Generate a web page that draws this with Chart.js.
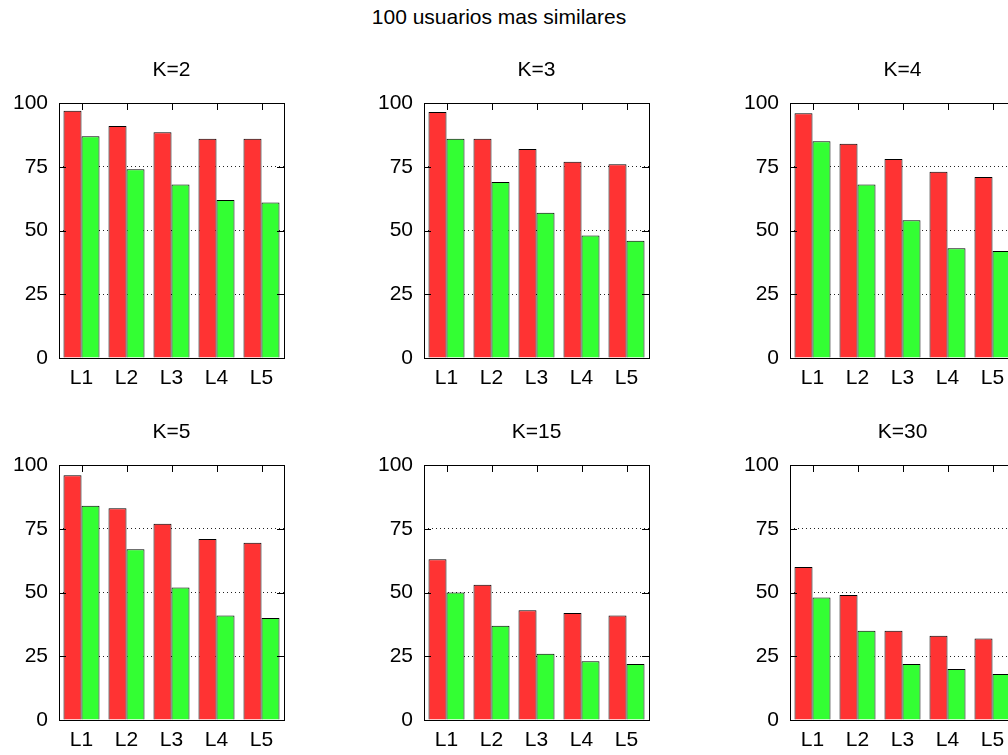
<!DOCTYPE html>
<html>
<head>
<meta charset="utf-8">
<title>100 usuarios mas similares</title>
<script src="https://cdn.jsdelivr.net/npm/chart.js@4/dist/chart.umd.min.js"></script>
<style>
  html, body { margin: 0; padding: 0; background: #fff; }
  body { width: 1008px; height: 755px; position: relative; overflow: hidden; font-family: "Liberation Sans", Arial, sans-serif; }
  #mainTitle { position: absolute; left: 0; top: 5px; width: 998px; text-align: center; font-size: 21px; line-height: 24px; color: #000; }
  canvas { position: absolute; }
</style>
</head>
<body>
<div id="mainTitle">100 usuarios mas similares</div>

<script>
const labels = ["L1", "L2", "L3", "L4", "L5"];
const yTicks = [0, 25, 50, 75, 100];
const panelTitles = ["K=2", "K=3", "K=4", "K=5", "K=15", "K=30"];

const k2Red = [97, 91, 88.5, 86, 86];
const k2Green = [87, 74, 68, 62, 61];
const k3Red = [96.5, 86, 82, 77, 76];
const k3Green = [86, 69, 57, 48, 46];
const k4Red = [96, 84, 78, 73, 71];
const k4Green = [85, 68, 54, 43, 42];
const k5Red = [96, 83, 77, 71, 69.5];
const k5Green = [84, 67, 52, 41, 40];
const k15Red = [63, 53, 43, 42, 41];
const k15Green = [50, 37, 26, 23, 22];
const k30Red = [60, 49, 35, 33, 32];
const k30Green = [48, 35, 22, 20, 18];

const redSeries = [k2Red, k3Red, k4Red, k5Red, k15Red, k30Red];
const greenSeries = [k2Green, k3Green, k4Green, k5Green, k15Green, k30Green];

// layout: plot area left edges per column, top edges per row
const COL_LEFT = [59, 424, 790];
const ROW_TOP = [103, 465];
const PLOT_W = 225;
const PLOT_H = 255;
const Y_AXIS_W = 59;
const X_AXIS_H = 40;
const FONT_SIZE = 21;
const TITLE_LH = FONT_SIZE * 1.2;
const TITLE_GAP = 20;
const FONT = "'Liberation Sans', Arial, sans-serif";
const TIC = 7;

// gnuplot-like frame with inward tic marks
const framePlugin = {
  id: "frame",
  afterDatasetsDraw(chart) {
    const { ctx, chartArea: a, scales } = chart;
    ctx.save();
    ctx.strokeStyle = "#000";
    ctx.lineWidth = 1;
    ctx.beginPath();
    scales.y.ticks.forEach(t => {
      const y = Math.round(scales.y.getPixelForValue(t.value)) + 0.5;
      ctx.moveTo(a.left, y); ctx.lineTo(a.left + TIC, y);
      ctx.moveTo(a.right, y); ctx.lineTo(a.right - TIC, y);
    });
    labels.forEach((_, i) => {
      const x = Math.round(scales.x.getPixelForValue(i)) + 0.5;
      ctx.moveTo(x, a.top); ctx.lineTo(x, a.top + TIC);
    });
    ctx.stroke();
    ctx.strokeRect(Math.round(a.left) + 0.5, Math.round(a.top) + 0.5,
      Math.round(a.right - a.left), Math.round(a.bottom - a.top));
    ctx.restore();
  },
};

function makePanel(idx) {
  const col = idx % 3;
  const row = Math.floor(idx / 3);
  const canvas = document.createElement("canvas");
  const top = Math.round(ROW_TOP[row] - TITLE_LH - TITLE_GAP);
  canvas.width = Y_AXIS_W + PLOT_W + 16;
  canvas.height = Math.round(ROW_TOP[row] - top + PLOT_H + X_AXIS_H);
  canvas.style.left = (COL_LEFT[col] - Y_AXIS_W) + "px";
  canvas.style.top = top + "px";
  document.body.appendChild(canvas);

  new Chart(canvas, {
    type: "bar",
    data: {
      labels,
      datasets: [
        { data: redSeries[idx], backgroundColor: "#ff3333", borderColor: "#000", borderWidth: 1 },
        { data: greenSeries[idx], backgroundColor: "#33ff33", borderColor: "#000", borderWidth: 1 },
      ],
    },
    options: {
      responsive: false,
      animation: false,
      layout: { padding: { left: 0, right: 16, top: ROW_TOP[row] - top - TITLE_LH - TITLE_GAP, bottom: 0 } },
      datasets: { bar: { categoryPercentage: 0.8, barPercentage: 1.0 } },
      plugins: {
        legend: { display: false },
        tooltip: { enabled: false },
        title: {
          display: true,
          text: panelTitles[idx],
          fullSize: false,
          color: "#000",
          font: { family: FONT, size: FONT_SIZE, weight: "normal" },
          padding: { top: 0, bottom: TITLE_GAP },
        },
      },
      scales: {
        x: {
          grid: { display: false, drawTicks: false },
          border: { display: false },
          ticks: { color: "#000", font: { family: FONT, size: FONT_SIZE }, padding: 8 },
          afterFit: s => { s.height = X_AXIS_H; },
        },
        y: {
          min: 0,
          max: 100,
          afterBuildTicks: s => { s.ticks = yTicks.map(v => ({ value: v })); },
          afterFit: s => { s.width = Y_AXIS_W; },
          grid: {
            drawTicks: false,
            color: c => (c.tick && (c.tick.value === 0 || c.tick.value === 100)) ? "rgba(0,0,0,0)" : "#222",
            lineWidth: 1,
          },
          border: { display: false, dash: [1, 3] },
          ticks: { color: "#000", font: { family: FONT, size: FONT_SIZE }, padding: 11 },
        },
      },
    },
    plugins: [framePlugin],
  });
}

for (let i = 0; i < panelTitles.length; i++) makePanel(i);
</script>
</body>
</html>
